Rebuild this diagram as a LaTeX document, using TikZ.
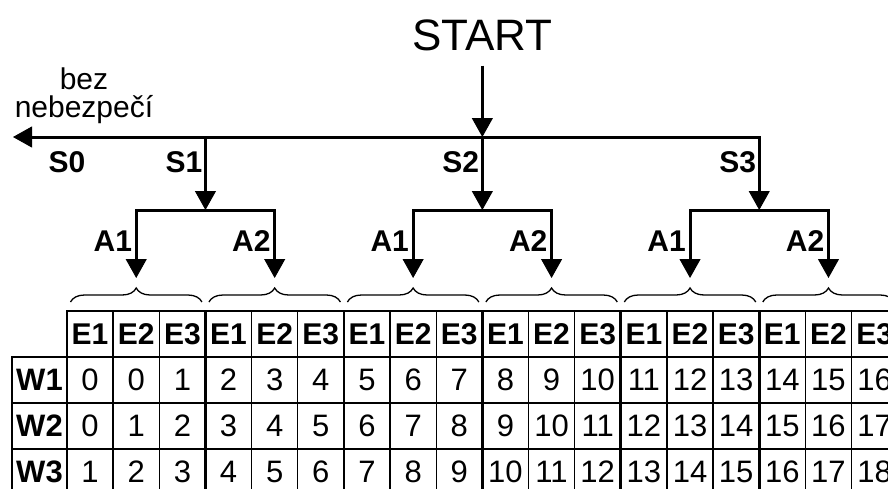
\documentclass[tikz,border=0pt]{standalone}
\usepackage{fontspec}
\setmainfont{Liberation Sans}
\usetikzlibrary{arrows.meta,decorations.pathreplacing}
\begin{document}
\begin{tikzpicture}[x=1pt,y=-1pt,
  flow/.style={line width=3pt,line join=miter},
  tipend/.style={-{Triangle[length=19pt,width=21pt,line width=1pt]}},
  tipboth/.style={{Triangle[length=19pt,width=21pt,line width=1pt]}-{Triangle[length=19pt,width=21pt,line width=1pt]}},
  lbl/.style={inner sep=0pt,font=\bfseries\fontsize{30}{32}\selectfont},
  txt/.style={inner sep=0pt,font=\fontsize{30}{32}\selectfont},
  headcell/.style={inner sep=0pt,font=\bfseries\fontsize{30}{32}\selectfont},
  rowcell/.style={inner sep=0pt,font=\bfseries\fontsize{31}{33}\selectfont},
  numcell/.style={inner sep=0pt,font=\fontsize{31}{33}\selectfont},
  thinrule/.style={line width=1.4pt},
  midrule/.style={line width=2pt,line cap=rect},
  thickrule/.style={line width=2.8pt,line cap=rect},
  bracestyle/.style={line width=1.3pt,decorate,decoration={brace,amplitude=14pt}}
]
\useasboundingbox (0,0) rectangle (888,488);
\clip (0,0) rectangle (888,488);

\def\cw{46.15}
% ---------- START and main line ----------
\node[inner sep=0pt,font=\fontsize{44}{48}\selectfont,anchor=base] (start) at ({67+9*\cw},50) {START};
\coordinate (s0tip) at (13,137);
\coordinate (jS1) at ({67+3*\cw},137);
\coordinate (jS2) at ({67+9*\cw},137);
\coordinate (jS3) at ({67+15*\cw},137);
\coordinate (bS1) at ({67+3*\cw},210);
\coordinate (bS2) at ({67+9*\cw},210);
\coordinate (bS3) at ({67+15*\cw},210);

\draw[flow,tipend] ([yshift=-15pt]start.south) -- (jS2);
\draw[flow,tipboth] (s0tip) -- (jS3) -- (bS3);
\draw[flow,tipend] (jS1) -- (bS1);
\draw[flow,tipend] (jS2) -- (bS2);

% labels on main line
\node[txt,anchor=base] (bez1) at (84,89) {bez};
\node[txt,anchor=base] (bez2) at (84,117) {nebezpečí};
\node[lbl,anchor=base] (s0) at (67,172) {S0};
\node[lbl,anchor=base east] (s1) at ([xshift=-3pt]jS1 |- 0,172) {S1};
\node[lbl,anchor=base east] (s2) at ([xshift=-3pt]jS2 |- 0,172) {S2};
\node[lbl,anchor=base east] (s3) at ([xshift=-3pt]jS3 |- 0,172) {S3};

% ---------- A brackets ----------
\foreach \g in {1,2,3} {
  \pgfmathsetmacro\xl{67+(6*\g-6+1.5)*\cw}
  \pgfmathsetmacro\xr{67+(6*\g-6+4.5)*\cw}
  \coordinate (tL\g) at (\xl,278);
  \coordinate (tR\g) at (\xr,278);
  \coordinate (cL\g) at (\xl,210);
  \coordinate (cR\g) at (\xr,210);
  \draw[flow,tipboth] (tL\g) -- (cL\g) -- (cR\g) -- (tR\g);
  \node[lbl,anchor=base east] (aL\g) at ([xshift=-4pt]\xl,251) {A1};
  \node[lbl,anchor=base east] (aR\g) at ([xshift=-4pt]\xr,251) {A2};
}

% ---------- braces ----------
\foreach \k in {0,...,5} {
  \pgfmathsetmacro\bl{67+3*\k*\cw+3.5}
  \pgfmathsetmacro\br{67+3*(\k+1)*\cw-3.5}
  \draw[bracestyle] (\bl,302) -- (\br,302);
}

% ---------- table ----------
\foreach \k in {0,...,18} {
  \pgfmathsetmacro\xx{67+\k*\cw}
  \draw[thinrule] (\xx,311) -- (\xx,495);
}
\draw[midrule] (12,403) -- ({67+18*\cw},403);
\draw[midrule] (12,449) -- ({67+18*\cw},449);
\draw[midrule] (12,495) -- ({67+18*\cw},495);
\foreach \k in {0,3,...,18} {
  \pgfmathsetmacro\xx{67+\k*\cw}
  \draw[thickrule] (\xx,311) -- (\xx,495);
}
\draw[thickrule] (67,311) -- ({67+18*\cw},311);
\draw[thickrule] (12,357) -- ({67+18*\cw},357);
\draw[thickrule] (12,357) -- (12,495);

\foreach \i in {0,...,17} {
  \pgfmathsetmacro\xc{67+(\i+0.5)*\cw}
  \pgfmathtruncatemacro\e{mod(\i,3)+1}
  \node[headcell] (e\i) at (\xc,334) {E\e};
  \pgfmathtruncatemacro\va{max(\i-1,0)}
  \pgfmathtruncatemacro\vb{\i}
  \pgfmathtruncatemacro\vc{\i+1}
  \node[numcell] (na\i) at (\xc,380) {\va};
  \node[numcell] (nb\i) at (\xc,426) {\vb};
  \node[numcell] (nc\i) at (\xc,472) {\vc};
}
\node[rowcell] (w1) at (39.5,380) {W1};
\node[rowcell] (w2) at (39.5,426) {W2};
\node[rowcell] (w3) at (39.5,472) {W3};
\end{tikzpicture}
\end{document}
